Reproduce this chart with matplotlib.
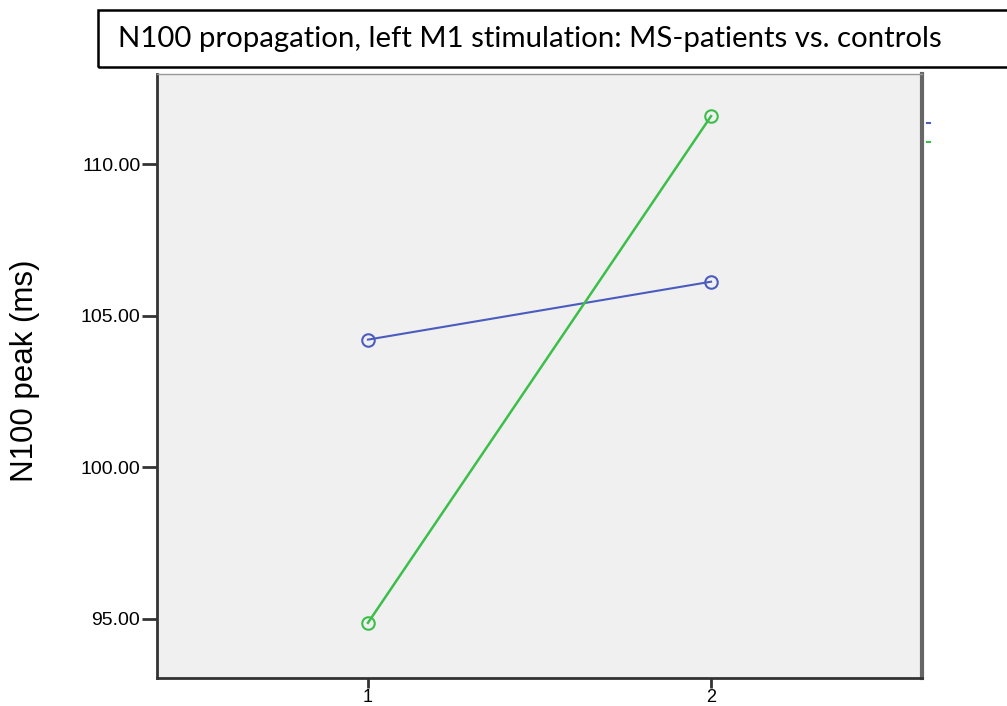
import matplotlib.pyplot as plt
from matplotlib.patches import Rectangle
from matplotlib.lines import Line2D

# estimated marginal means
conditions = [1, 2]
group_blue = [104.21, 106.12]
group_green = [94.87, 111.58]
y_ticks = [95, 100, 105, 110]
y_tick_labels = ["95.00", "100.00", "105.00", "110.00"]

fig = plt.figure(figsize=(10.07, 7.06), dpi=100)
ax = fig.add_axes([157 / 1007, 1 - 678 / 706, (922 - 157) / 1007, (678 - 74) / 706])
ax.set_facecolor("#f0f0f0")

ax.plot(conditions, group_blue, color="#4a5cbf", lw=1.5, marker="o", ms=9,
        mfc="none", mec="#4a5cbf", mew=1.5)
ax.plot(conditions, group_green, color="#3cbf4a", lw=1.8, marker="o", ms=9,
        mfc="none", mec="#3cbf4a", mew=1.5)

ax.set_xlim(0.385, 2.615)
ax.set_ylim(93.05, 112.97)
ax.set_xticks(conditions)
ax.set_xticklabels(["1", "2"], fontsize=13, family="Liberation Sans")
ax.set_yticks(y_ticks)
ax.set_yticklabels(y_tick_labels, fontsize=14, family="Liberation Sans")
ax.tick_params(axis="x", length=7, width=2, color="#333333", pad=1)
ax.tick_params(axis="y", length=11, width=2, color="#333333", pad=1)

for side in ["left", "bottom"]:
    ax.spines[side].set_color("#333333")
    ax.spines[side].set_linewidth(2)
ax.spines["right"].set_color("#666666")
ax.spines["right"].set_linewidth(3)
ax.spines["top"].set_color("#999999")
ax.spines["top"].set_linewidth(1)

ax.set_ylabel("N100 peak (ms)", fontsize=22.5, family="Liberation Sans")
ax.yaxis.set_label_coords(-0.153, 0.508)

# remnants of the cropped legend
fig.add_artist(Line2D([927 / 1007, 930 / 1007], [1 - 123 / 706] * 2, color="#4a5cbf", lw=1.5))
fig.add_artist(Line2D([927 / 1007, 930 / 1007], [1 - 142 / 706] * 2, color="#3cbf4a", lw=1.5))

# boxed title
fig.add_artist(Rectangle((98 / 1007, 1 - 67 / 706), 1.0, 57 / 706,
                         transform=fig.transFigure, fill=False, ec="black", lw=1.8))
fig.text(118 / 1007, 1 - 39 / 706, "N100 propagation, left M1 stimulation: MS-patients vs. controls",
         fontsize=21.2, family="Lato", va="center", ha="left")

fig.savefig("out.png", dpi=100)
